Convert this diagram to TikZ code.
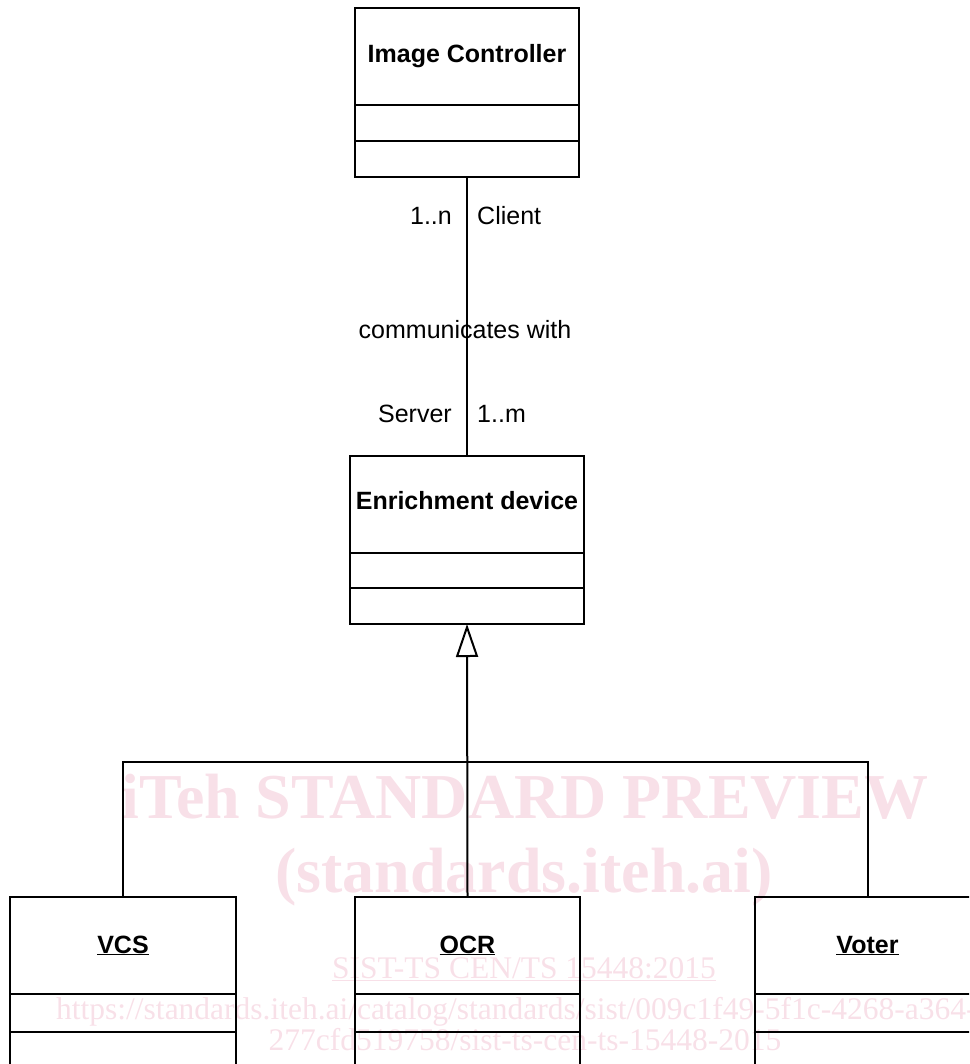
\documentclass[tikz,border=0pt]{standalone}
\usepackage{fontspec}
\setmainfont{Liberation Sans}
\newfontfamily\wmfont{Liberation Serif}
\usetikzlibrary{arrows.meta}
\definecolor{wmpink}{RGB}{248,224,232}
\tikzset{
  >=latex,
}
\tikzstyle{classbox}=[draw,line width=2pt,inner sep=0pt,outer sep=0pt,minimum height=169pt]
\tikzstyle{classname}=[font=\fontsize{25}{30}\selectfont\bfseries,anchor=base,inner sep=0pt]
\tikzstyle{role}=[font=\fontsize{25}{30}\selectfont,anchor=base,inner sep=0pt]
\tikzstyle{line}=[line width=2pt]
\tikzstyle{inherit}=[line width=2pt,-{Triangle[open,length=33pt,width=22pt]}]
\tikzstyle{watermark}=[text=wmpink,anchor=base,inner sep=0pt]

\begin{document}
\begin{tikzpicture}[x=1pt,y=-1pt]
    \useasboundingbox (0,0) rectangle (969,1064);
    \clip (0,0) rectangle (969,1064);
    % watermark
    \node[watermark,font=\wmfont\bfseries\fontsize{64}{70}\selectfont] (wmtitle) at (525,818) {iTeh STANDARD PREVIEW};
    \node[watermark,font=\wmfont\bfseries\fontsize{64}{70}\selectfont] (wmsite) at (524,892) {(standards.iteh.ai)};
    \node[watermark,font=\wmfont\fontsize{31.5}{36}\selectfont] (wmref) at (524,978) {\underline{SIST-TS CEN/TS 15448:2015}};
    \node[watermark,anchor=base west,font=\wmfont\fontsize{31.5}{36}\selectfont] (wmurl) at (56,1019) {https://standards.iteh.ai/catalog/standards/sist/009c1f49-5f1c-4268-a364-};
    \node[watermark,font=\wmfont\fontsize{31.5}{36}\selectfont] (wmurlend) at (525,1050) {277cfd519758/sist-ts-cen-ts-15448-2015};
    % Image Controller
    \node[classbox,minimum width=224pt] (ctrl) at (467,92.5) {};
    \draw[line] ([yshift=-97pt]ctrl.north west) -- ([yshift=-97pt]ctrl.north east);
    \draw[line] ([yshift=-133pt]ctrl.north west) -- ([yshift=-133pt]ctrl.north east);
    \node[classname] (ctrlname) at (467,63) {Image Controller};
    % Enrichment device
    \node[classbox,minimum width=234pt,minimum height=168pt] (enr) at (467,540) {};
    \draw[line] ([yshift=-97pt]enr.north west) -- ([yshift=-97pt]enr.north east);
    \draw[line] ([yshift=-132pt]enr.north west) -- ([yshift=-132pt]enr.north east);
    \node[classname] (enrname) at (467,509) {Enrichment device};
    % association
    \draw[line] (ctrl) -- (enr);
    \node[role,anchor=base east] (ctrlmult) at (452,225) {1..n};
    \node[role,anchor=base west] (ctrlrole) at (477,225) {Client};
    \node[role] (assocname) at (465,338) {communicates with};
    \node[role,anchor=base east] (enrrole) at (452,422) {Server};
    \node[role,anchor=base west] (enrmult) at (477,422) {1..m};
    % subclasses
    \node[classbox,minimum width=226pt,minimum height=173pt] (vcs) at (123,983.5) {};
    \draw[line] ([yshift=-97pt]vcs.north west) -- ([yshift=-97pt]vcs.north east);
    \draw[line] ([yshift=-135pt]vcs.north west) -- ([yshift=-135pt]vcs.north east);
    \node[classname] (vcsname) at (123,953) {\underline{VCS}};
    \node[classbox,minimum width=225pt,minimum height=173pt] (ocr) at (467.5,983.5) {};
    \draw[line] ([yshift=-97pt]ocr.north west) -- ([yshift=-97pt]ocr.north east);
    \draw[line] ([yshift=-135pt]ocr.north west) -- ([yshift=-135pt]ocr.north east);
    \node[classname] (ocrname) at (467.5,953) {\underline{OCR}};
    \node[classbox,minimum width=225pt,minimum height=173pt] (voter) at (867.5,983.5) {};
    \draw[line] ([yshift=-97pt]voter.north west) -- ([yshift=-97pt]voter.north east);
    \draw[line] ([yshift=-135pt]voter.north west) -- ([yshift=-135pt]voter.north east);
    \node[classname] (votername) at (867.5,953) {\underline{Voter}};
    % generalization
    \coordinate (bar) at (467.5,762);
    \draw[line] (vcs.north) |- (bar) -| (voter.north);
    \draw[inherit] (ocr.north) -- (enr.south);
\end{tikzpicture}
\end{document}
